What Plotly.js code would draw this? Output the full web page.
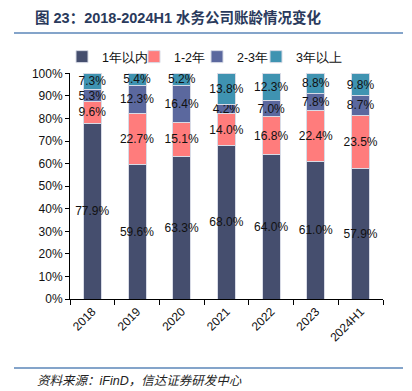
<!DOCTYPE html>
<html><head><meta charset="utf-8">
<script src="https://cdn.plot.ly/plotly-3.0.1.min.js"></script>
<style>html,body{margin:0;padding:0;background:#fff}#c{width:412px;height:391px}</style>
</head><body><div id="c"></div>
<script>
const categories = ['2018','2019','2020','2021','2022','2023','2024H1'];
const seriesNames = ['1年以内','1-2年','2-3年','3年以上'];
const within1 = [77.9, 59.6, 63.3, 68.0, 64.0, 61.0, 57.9];
const y1to2 = [9.6, 22.7, 15.1, 14.0, 16.8, 22.4, 23.5];
const y2to3 = [5.3, 12.3, 16.4, 4.2, 7.0, 7.8, 8.7];
const over3 = [7.3, 5.4, 5.2, 13.8, 12.3, 8.8, 9.8];
const yTicks = [0,10,20,30,40,50,60,70,80,90,100];

const colors = ['#454e6e','#ff7c7c','#5b689e','#3f93b1'];
const legendIds = ['legend','legend2','legend3','legend4'];
const data = [within1, y1to2, y2to3, over3].map((vals, i) => ({
  type: 'bar', name: seriesNames[i], x: categories, y: vals, legend: legendIds[i],
  marker: {color: colors[i], line: {color: '#d8dbe6', width: 1}},
  text: vals.map(v => v.toFixed(1) + '%'), textposition: 'inside',
  insidetextanchor: 'middle', textangle: 0, constraintext: 'none',
  insidetextfont: {color: '#111', size: 12, family: 'Liberation Sans, Arial, sans-serif'},
  hoverinfo: 'skip', cliponaxis: false
}));

const px = x => (x - 70) / 313, py = y => (299 - y) / 226;
const legendLeft = [62, 134, 197, 256];
const layout = {
  width: 412, height: 391, margin: {l: 70, r: 29, t: 73, b: 92, autoexpand: false},
  paper_bgcolor: '#fff', plot_bgcolor: '#fff', barmode: 'stack', bargap: 0.6,
  font: {family: 'Liberation Sans, Arial, sans-serif', size: 12, color: '#111'},
  title: {text: '<b>图 23：2018-2024H1 水务公司账龄情况变化</b>', xref: 'container', x: 35/412, xanchor: 'left',
          yref: 'container', y: 1 - 18/391, yanchor: 'middle',
          font: {size: 14.5, color: '#2a3a5c', family: 'Liberation Sans, Noto Sans CJK SC, sans-serif'}},
  showlegend: true,
  xaxis: {type: 'category', showline: true, linecolor: '#000', linewidth: 1, ticks: 'outside',
          tickson: 'boundaries', ticklen: 5, tickcolor: '#000', tickangle: -45, showgrid: false,
          tickfont: {size: 12}, fixedrange: true},
  yaxis: {range: [0, 100.15], tickvals: yTicks, ticktext: yTicks.map(v => v + '%'), showline: true,
          linecolor: '#000', linewidth: 1, ticks: 'outside', ticklen: 4, tickcolor: '#000',
          showgrid: false, zeroline: false, tickfont: {size: 12}, fixedrange: true},
  shapes: [
    {type: 'line', xref: 'paper', yref: 'paper', x0: px(14), x1: px(403), y0: py(33), y1: py(33),
     line: {color: '#5b86b8', width: 1.5}},
    {type: 'line', xref: 'paper', yref: 'paper', x0: px(14), x1: px(403), y0: py(368), y1: py(368),
     line: {color: '#5b86b8', width: 1.5}}
  ],
  annotations: [
    {text: '<i>资料来源：iFinD，信达证券研发中心</i>', xref: 'paper', yref: 'paper', x: px(35), y: py(381),
     xanchor: 'left', yanchor: 'middle', showarrow: false,
     font: {size: 12.5, color: '#222', family: 'Liberation Sans, Noto Sans CJK SC, sans-serif'}}
  ]
};
legendIds.forEach((id, i) => {
  layout[id] = {orientation: 'h', x: px(legendLeft[i]), xanchor: 'left', y: py(57), yanchor: 'middle',
                font: {size: 12.5}, itemwidth: 30, bgcolor: 'rgba(0,0,0,0)', borderwidth: 0};
});
Plotly.newPlot('c', data, layout, {staticPlot: true, displayModeBar: false});
</script></body></html>
